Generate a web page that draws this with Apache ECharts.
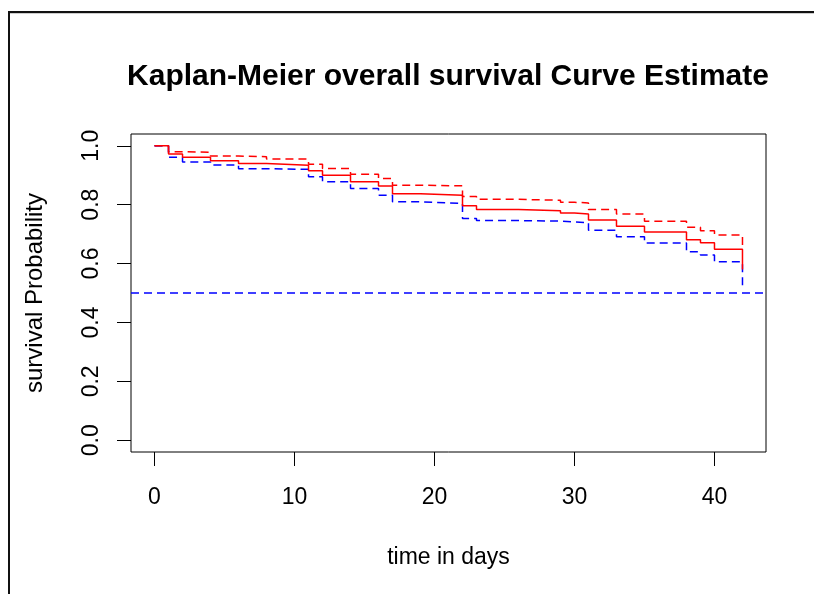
<!DOCTYPE html>
<html>
 <head>
  <meta charset="utf-8" />
  <title>Kaplan-Meier</title>
  <script type="text/javascript" src="https://cdn.jsdelivr.net/npm/echarts@6/dist/echarts.min.js"></script>
  <style type="text/css">
html, body {
	width: 100%;
	height: 100%;
	margin: 0;
	background: #fff;
}

#main {
	width: 814px;
	height: 594px;
}
</style>
</head>
<body>
<div id="main"></div>

<script type="text/javascript">
// KM estimate (time in days)
var times = [0, 1, 2, 4, 6, 8, 11, 12, 14, 16, 17, 19, 22, 23, 26, 29, 30, 31, 33, 35, 38, 39, 40, 42];
var surv  = [1.0, 0.972, 0.961, 0.949, 0.940, 0.934, 0.915, 0.900, 0.878, 0.863, 0.837, 0.832, 0.796, 0.784, 0.779, 0.772, 0.768, 0.748, 0.727, 0.707, 0.681, 0.671, 0.649, 0.58];
var upper = [1.0, 0.980, 0.978, 0.965, 0.963, 0.955, 0.937, 0.923, 0.903, 0.889, 0.866, 0.864, 0.828, 0.818, 0.815, 0.808, 0.806, 0.784, 0.768, 0.744, 0.723, 0.711, 0.697, 0.65];
var lower = [1.0, 0.961, 0.945, 0.935, 0.922, 0.920, 0.895, 0.878, 0.855, 0.832, 0.810, 0.804, 0.753, 0.746, 0.744, 0.741, 0.739, 0.713, 0.691, 0.670, 0.640, 0.629, 0.606, 0.515];
var medianLine = 0.5;

var xTicks = [0, 10, 20, 30, 40];
var yTicks = [0, 0.2, 0.4, 0.6, 0.8, 1.0];

function pairs(ys) {
    return times.map(function (t, i) { return [t, ys[i]]; });
}

var font = '"Liberation Sans", Arial, sans-serif';
var chart = echarts.init(document.getElementById('main'), null, { renderer: 'canvas' });

var option = {
    animation: false,
    backgroundColor: '#fff',
    graphic: [
        { type: 'line', shape: { x1: 8, y1: 12, x2: 814, y2: 12 }, style: { stroke: '#111', lineWidth: 2 } },
        { type: 'line', shape: { x1: 8, y1: 13.5, x2: 814, y2: 13.5 }, style: { stroke: '#ccc', lineWidth: 1 } },
        { type: 'line', shape: { x1: 9, y1: 11, x2: 9, y2: 594 }, style: { stroke: '#111', lineWidth: 2 } },
        {
            type: 'text',
            x: 448, y: 77,
            style: {
                text: 'Kaplan-Meier overall survival Curve Estimate',
                font: 'bold 30px ' + font,
                fill: '#000',
                textAlign: 'center',
                textVerticalAlign: 'middle'
            }
        }
    ],
    grid: {
        left: 131, top: 134, width: 635, height: 318,
        show: true, borderColor: '#000', borderWidth: 1, backgroundColor: '#fff'
    },
    xAxis: {
        type: 'value',
        min: -1.68, max: 43.68,
        name: 'time in days',
        nameLocation: 'middle',
        nameGap: 94,
        nameTextStyle: { fontFamily: font, fontSize: 23, color: '#000' },
        axisLine: { show: false, onZero: false },
        splitLine: { show: false },
        axisTick: { show: true, inside: false, length: 14, customValues: xTicks, lineStyle: { color: '#000' } },
        axisLabel: { customValues: xTicks, margin: 34, fontFamily: font, fontSize: 23, color: '#000' }
    },
    yAxis: {
        type: 'value',
        min: -0.04, max: 1.04,
        name: 'survival Probability',
        nameLocation: 'middle',
        nameRotate: 90,
        nameGap: 84,
        nameTextStyle: { fontFamily: font, fontSize: 24, color: '#000' },
        axisLine: { show: false, onZero: false },
        splitLine: { show: false },
        axisTick: { show: true, inside: false, length: 14, customValues: yTicks, lineStyle: { color: '#000' } },
        axisLabel: {
            customValues: yTicks, rotate: 90, margin: 28,
            fontFamily: font, fontSize: 23, color: '#000',
            formatter: function (v) { return v.toFixed(1); }
        }
    },
    series: [
        {
            name: 'upper', type: 'line', step: 'end', symbol: 'none', data: pairs(upper),
            lineStyle: { color: '#ff0000', width: 1.5, type: [8, 5] }
        },
        {
            name: 'lower', type: 'line', step: 'end', symbol: 'none', data: pairs(lower),
            lineStyle: { color: '#0000ff', width: 1.5, type: [8, 5] },
            markLine: {
                silent: true, symbol: 'none', label: { show: false },
                lineStyle: { color: '#0000ff', width: 1.5, type: [8, 5] },
                data: [{ yAxis: medianLine }]
            }
        },
        {
            name: 'survival', type: 'line', step: 'end', symbol: 'none', data: pairs(surv),
            lineStyle: { color: '#ff0000', width: 1.5 }
        }
    ]
};

chart.setOption(option);
</script>
</body>
</html>
